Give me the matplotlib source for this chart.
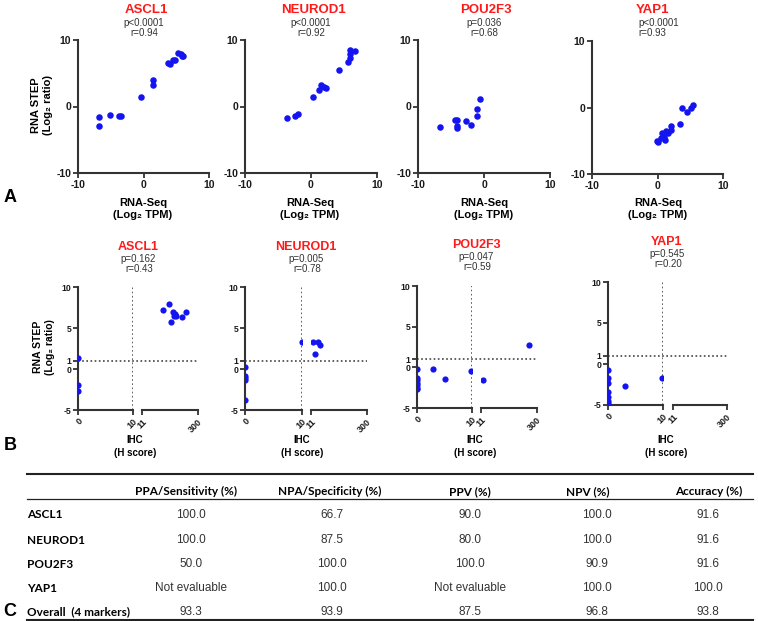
import matplotlib
matplotlib.use('Agg')
import matplotlib.pyplot as plt
import matplotlib.transforms as mtransforms
from matplotlib.lines import Line2D

plt.rcParams['font.family'] = ['Liberation Sans', 'DejaVu Sans']
plt.rcParams['axes.unicode_minus'] = False

W, H = 758, 621
DOT = '#1414f0'
AXC = '#333333'

genes = ['ASCL1', 'NEUROD1', 'POU2F3', 'YAP1']

# ---- panel A: RNA-Seq (log2 TPM) vs RNA STEP (log2 ratio)
ascl1_rnaseq = [-6.75, -6.75, -5.1, -3.7, -3.4, -0.33, 1.45, 1.45, 3.7, 4.1, 4.5, 4.75, 5.3, 5.7, 5.9, 6.1]
ascl1_step = [-1.55, -2.94, -1.3, -1.45, -1.45, 1.45, 4.05, 3.2, 6.55, 6.35, 6.95, 7.05, 8.05, 7.95, 7.65, 7.65]
neurod1_rnaseq = [-3.64, -2.37, -2.0, 0.25, 1.26, 1.57, 2.0, 2.3, 4.3, 5.6, 5.86, 5.86, 5.96, 6.6]
neurod1_step = [-1.8, -1.45, -1.15, 1.45, 2.55, 3.2, 2.95, 2.85, 5.45, 6.7, 8.45, 7.95, 7.35, 8.3]
pou2f3_rnaseq = [-6.7, -4.37, -4.06, -4.11, -4.06, -2.69, -2.03, -1.02, -1.02, -0.6]
pou2f3_step = [-3.03, -1.98, -2.03, -2.98, -3.23, -2.13, -2.78, -0.38, -1.38, 1.18]
yap1_rnaseq = [-0.13, 0.0, 0.48, 0.74, 0.99, 1.09, 1.3, 1.6, 2.1, 2.1, 3.38, 3.74, 4.5, 5.17, 5.42]
yap1_step = [-4.99, -5.24, -4.64, -3.83, -4.48, -4.89, -3.48, -3.83, -2.73, -3.38, -2.48, -0.08, -0.73, -0.08, 0.37]
stats_a = [('p<0.0001', 'r=0.94'), ('p<0.0001', 'r=0.92'), ('p=0.036', 'r=0.68'), ('p<0.0001', 'r=0.93')]

# ---- panel B: IHC (H score) vs RNA STEP (log2 ratio)
ascl1_ihc = [0, 0, 0, 121, 149, 162, 173, 176, 183, 188, 217, 238]
ascl1_step_b = [1.34, -2.0, -2.72, 7.2, 7.97, 5.77, 6.9, 6.5, 6.7, 6.5, 6.3, 7.0]
neurod1_ihc = [0, 0, 0, 0, 0, 10, 23, 30, 49, 57]
neurod1_step_b = [0.24, -0.85, -1.1, -1.38, -3.74, 3.25, 3.25, 1.8, 3.25, 2.9]
pou2f3_ihc = [0, 0, 0, 0, 0, 0, 0, 2.9, 5.0, 9.8, 23, 259]
pou2f3_step_b = [-0.2, -1.3, -1.6, -1.9, -2.2, -2.5, -2.7, -0.15, -1.38, -0.43, -1.57, 2.78]
yap1_ihc = [0, 0, 0, 0, 0, 0, 0, 3.0, 9.8]
yap1_step_b = [-0.74, -1.68, -2.29, -3.46, -3.99, -4.5, -4.8, -2.65, -1.75]
stats_b = [('p=0.162', 'r=0.43'), ('p=0.005', 'r=0.78'), ('p=0.047', 'r=0.59'), ('p=0.545', 'r=0.20')]

# ---- panel C: concordance table
table_markers = ['ASCL1', 'NEUROD1', 'POU2F3', 'YAP1', 'Overall  (4 markers)']
table_headers = ['PPA/Sensitivity (%)', 'NPA/Specificity (%)', 'PPV (%)', 'NPV (%)', 'Accuracy (%)']
ppa = ['100.0', '100.0', '50.0', 'Not evaluable', '93.3']
npa = ['66.7', '87.5', '100.0', '100.0', '93.9']
ppv = ['90.0', '80.0', '100.0', 'Not evaluable', '87.5']
npv = ['100.0', '100.0', '90.9', '100.0', '96.8']
acc = ['91.6', '91.6', '91.6', '100.0', '93.8']

fig = plt.figure(figsize=(W / 100, H / 100), dpi=100)


def px_axes(left, right, top, bottom):
    return fig.add_axes([left / W, 1 - bottom / H, (right - left) / W, (bottom - top) / H])


def ftext(x, y, s, **kw):
    return fig.text(x / W, 1 - y / H, s, **kw)


def style_axis(ax, left=True, size=7):
    for side in ['top', 'right']:
        ax.spines[side].set_visible(False)
    ax.spines['bottom'].set_color(AXC)
    ax.spines['bottom'].set_linewidth(1.5)
    if left:
        ax.spines['left'].set_color(AXC)
        ax.spines['left'].set_linewidth(1.5)
    else:
        ax.spines['left'].set_visible(False)
    ax.tick_params(direction='out', length=3.5, width=1.3, color=AXC, labelsize=size, pad=1.5)
    for lab in ax.get_xticklabels() + ax.get_yticklabels():
        lab.set_fontweight('bold')
        lab.set_color('#1a1a1a')
    ax.patch.set_alpha(0)


# ----- Row A -----
a_x = [ascl1_rnaseq, neurod1_rnaseq, pou2f3_rnaseq, yap1_rnaseq]
a_y = [ascl1_step, neurod1_step, pou2f3_step, yap1_step]
a_boxes = [(78, 209, 40, 173), (245, 377, 40, 173), (418, 550, 40, 173), (592, 723, 41, 174)]
a_title_x = [146, 313, 486, 653]
a_xlab_x = [143, 310, 484, 658]

for i in range(4):
    ax = px_axes(*a_boxes[i])
    ax.scatter(a_x[i], a_y[i], s=22, color=DOT, zorder=3, linewidths=0)
    ax.set_xlim(-10, 10)
    ax.set_ylim(-10, 10)
    ax.set_xticks([-10, 0, 10])
    ax.set_yticks([-10, 0, 10])
    style_axis(ax, size=7.5)
    ftext(a_title_x[i], 10, genes[i], color='#ff1a1a', fontsize=9.5, fontweight='bold', ha='center', va='center')
    if i == 3:
        ftext(638, 23, stats_a[i][0], fontsize=7, color='#333333', ha='left', va='center')
        ftext(638, 33, stats_a[i][1], fontsize=7, color='#333333', ha='left', va='center')
    else:
        ftext(a_title_x[i] - 2, 23, stats_a[i][0], fontsize=7, color='#333333', ha='center', va='center')
        ftext(a_title_x[i] - 2, 33, stats_a[i][1], fontsize=7, color='#333333', ha='center', va='center')
    ftext(a_xlab_x[i], 203, 'RNA-Seq', fontsize=8, fontweight='bold', ha='center', va='center')
    ftext(a_xlab_x[i], 215, '(Log₂ TPM)', fontsize=8, fontweight='bold', ha='center', va='center')

ftext(42, 105, 'RNA STEP\n(Log₂ ratio)', fontsize=8, fontweight='bold', rotation=90,
      ha='center', va='center', multialignment='center', linespacing=1.15)

# ----- Row B (broken x axis: 0-10 | 11-300) -----
b_x = [ascl1_ihc, neurod1_ihc, pou2f3_ihc, yap1_ihc]
b_y = [ascl1_step_b, neurod1_step_b, pou2f3_step_b, yap1_step_b]
b_boxes = [(78, 133, 142, 198, 287, 410), (245, 302, 311, 367, 287, 410),
           (417, 472, 481, 537, 286, 408), (608, 663, 673, 727, 282, 405)]
b_title_x = [138, 306, 476, 667]
b_title_y = [247, 247, 245, 242]
b_ihc_x = [135, 302, 475, 666]

for i in range(4):
    L, s1r, s2l, R, T, B = b_boxes[i]
    ax1 = px_axes(L, s1r, T, B)
    ax2 = px_axes(s2l, R, T, B)
    xs = b_x[i]
    ys = b_y[i]
    lo = [(x, y) for x, y in zip(xs, ys) if x <= 10]
    hi = [(x, y) for x, y in zip(xs, ys) if x > 10]
    if lo:
        ax1.scatter([p[0] for p in lo], [p[1] for p in lo], s=20, color=DOT, zorder=3, linewidths=0)
    if hi:
        ax2.scatter([p[0] for p in hi], [p[1] for p in hi], s=20, color=DOT, zorder=3, linewidths=0)
    ax1.set_xlim(0, 10)
    ax2.set_xlim(11, 300)
    for ax in (ax1, ax2):
        ax.set_ylim(-5, 10)
    ax1.set_xticks([0, 10])
    ax2.set_xticks([11, 300])
    ax1.set_yticks([-5, 0, 1, 5, 10])
    ax2.set_yticks([])
    style_axis(ax1, size=6.2)
    style_axis(ax2, left=False, size=6.2)
    for ax in (ax1, ax2):
        for lab in ax.get_xticklabels():
            lab.set_rotation(45)
            lab.set_ha('right')
            lab.set_va('top')
            lab.set_rotation_mode('anchor')
            lab.set_fontsize(6.5)
    # threshold lines
    ax1.axvline(10, color='#444444', linestyle=(0, (1, 1.5)), linewidth=1.2, zorder=1)
    trans = mtransforms.blended_transform_factory(ax1.transAxes, ax1.transData)
    ax1.plot([0, (R - L) / (s1r - L)], [1, 1], transform=trans, color='#444444',
             linestyle=(0, (1, 1.5)), linewidth=1.2, clip_on=False, zorder=1)

    ftext(b_title_x[i], b_title_y[i], genes[i], color='#ff1a1a', fontsize=9, fontweight='bold', ha='center', va='center')
    ftext(b_title_x[i], b_title_y[i] + 12, stats_b[i][0], fontsize=7, color='#333333', ha='center', va='center')
    ftext(b_title_x[i] + 1, b_title_y[i] + 22, stats_b[i][1], fontsize=7, color='#333333', ha='center', va='center')
    ftext(b_ihc_x[i], 440, 'IHC', fontsize=7, fontweight='bold', ha='center', va='center')
    ftext(b_ihc_x[i], 453, '(H score)', fontsize=7, fontweight='bold', ha='center', va='center')

ftext(44, 347, 'RNA STEP\n(Log₂ ratio)', fontsize=7.5, fontweight='bold', rotation=90,
      ha='center', va='center', multialignment='center', linespacing=1.15)

# ----- panel letters -----
for letter, y in [('A', 198), ('B', 445), ('C', 611)]:
    ftext(10, y, letter, fontsize=13, fontweight='bold', ha='center', va='center')

# ----- Row C table -----
fig.add_artist(Line2D([27 / W, 753 / W], [1 - 474 / H] * 2, color='#222222', linewidth=1.5))
fig.add_artist(Line2D([27 / W, 753 / W], [1 - 498.5 / H] * 2, color='#222222', linewidth=0.9))
fig.add_artist(Line2D([27 / W, 753 / W], [1 - 619.5 / H] * 2, color='#222222', linewidth=1.5))

head_x = [186, 330, 470, 588, 709]
val_x = [191, 332, 470, 597, 708]
for hx, hd in zip(head_x, table_headers):
    ftext(hx, 491.5, hd, family=['Lato', 'DejaVu Sans'], fontweight='bold', fontsize=8.5, ha='center', va='center')

row_y = [515, 540, 564, 588, 612]
columns = [ppa, npa, ppv, npv, acc]
for r, name in enumerate(table_markers):
    ftext(27, row_y[r], name, family=['Lato', 'DejaVu Sans'], fontweight='bold', fontsize=8.5, ha='left', va='center')
    for c, col in enumerate(columns):
        ftext(val_x[c], row_y[r], col[r], fontsize=8.5, color='#333333', ha='center', va='center')

fig.savefig('out.png', dpi=100)
